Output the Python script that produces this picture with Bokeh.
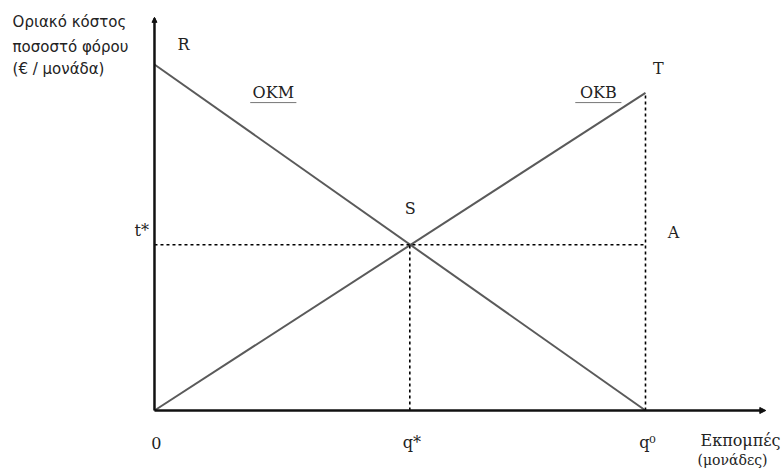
from bokeh.plotting import figure
from bokeh.models import Label, Range1d, Arrow, NormalHead
from bokeh.embed import file_html
from bokeh.resources import INLINE

# ---- data (economic diagram values) ----
q_zero = 10.0        # q0: emissions where MKM hits zero
q_star = 5.2         # q*: optimal emissions
t_star = 5.27        # t*: optimal tax rate
R_val = 11.0         # intercept of marginal abatement cost (OKM)
T_val = 10.1         # marginal damage at q0 (OKB)

okm_x = [0.0, q_zero]
okm_y = [R_val, 0.0]
okb_x = [0.0, q_zero]
okb_y = [0.0, T_val]

x_ticks = [0.0, q_star, q_zero]
x_tick_labels = ["0", "q*", "q\u2070"]

SERIF = "DejaVu Serif"
SANS = "DejaVu Sans"

p = figure(width=784, height=471, output_backend="svg", toolbar_location=None,
           x_range=Range1d(-3.136, 12.831), y_range=Range1d(-1.94, 13.036),
           min_border=0, outline_line_color=None)
p.axis.visible = False
p.grid.visible = False
p.background_fill_color = "white"

# main lines
p.line(okm_x, okm_y, line_color="#5a5a5a", line_width=2)
p.line(okb_x, okb_y, line_color="#5a5a5a", line_width=2)

# dashed guides
p.segment(x0=[0.0, q_star, q_zero], y0=[t_star, 0.0, 0.0],
          x1=[q_zero, q_star, q_zero], y1=[t_star, t_star, T_val],
          line_color="black", line_width=1.6, line_dash="3 3")

# axes
p.segment(x0=[0.0, 0.0], y0=[0.0, 0.0], x1=[0.0, 12.4], y1=[12.46, 0.0],
          line_color="#111111", line_width=2.5)
p.add_layout(Arrow(end=NormalHead(size=6, fill_color="#111111", line_color="#111111"),
                   x_start=11.9, y_start=0, x_end=12.45, y_end=0,
                   line_color="#111111", line_width=1))
p.add_layout(Arrow(end=NormalHead(size=5, fill_color="#111111", line_color="#111111"),
                   x_start=0, y_start=12.0, x_end=0, y_end=12.5,
                   line_color="#111111", line_width=1))

def lab(x, y, text, size=16, font=SERIF, align="center", baseline="middle", color="#222222"):
    p.add_layout(Label(x=x, y=y, text=text, text_font=font, text_font_size=f"{size}px",
                       text_align=align, text_baseline=baseline, text_color=color))

# point labels
lab(0.59, 11.64, "R")
lab(10.26, 10.87, "T")
lab(5.21, 6.42, "S")
lab(10.57, 5.66, "A")
lab(-0.26, 5.72, "t*")

# tick labels
for xv, tl in zip(x_ticks, x_tick_labels):
    lab(xv + 0.04, -1.03, tl)

# curve labels with underline
for cx, name in [(2.42, "OKM"), (9.04, "OKB")]:
    lab(cx, 10.11, name)
    p.segment(x0=[cx - 0.47], y0=[9.79], x1=[cx + 0.47], y1=[9.79],
              line_color="#777777", line_width=1)

# axis titles
lab(11.12, -0.97, "Εκπομπές", size=16, align="left")
lab(11.06, -1.57, "(μονάδες)", size=14, align="left")
lab(-2.89, 12.34, "Οριακό κόστος", size=15, font=SANS, align="left")
lab(-2.89, 11.57, "ποσοστό φόρου", size=15, font=SANS, align="left")
lab(-2.89, 10.87, "(€ / μονάδα)", size=15, font=SANS, align="left")

open("out.html", "w").write(file_html(p, INLINE))
